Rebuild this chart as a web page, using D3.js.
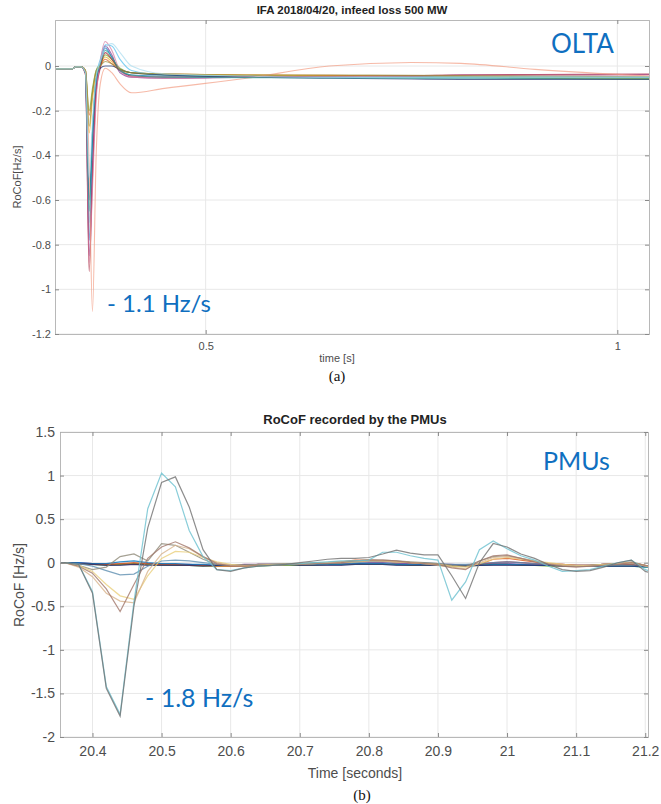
<!DOCTYPE html>
<html>
<head>
<meta charset="utf-8">
<script src="https://cdn.jsdelivr.net/npm/d3@7"></script>
<style>
  body { margin: 0; background: #fff; }
  svg { display: block; font-family: "Liberation Sans", Arial, sans-serif; }
  .tick text { fill: #4d4d4d; }
</style>
</head>
<body>
<svg id="chart" width="661" height="804"></svg>
<script>
// ---- (a) OLTA, IFA 2018/04/20 ----
var timeA = [0.317, 0.338, 0.342, 0.349, 0.354, 0.3585, 0.3625, 0.367, 0.372, 0.378, 0.386, 0.396, 0.41, 0.45, 0.55, 0.65, 0.75, 0.81, 0.9, 1.0385];
var colorsA = ["#0072BD", "#D95319", "#EDB120", "#7E2F8E", "#77AC30", "#4DBEEE", "#A2142F", "#1b2f6e", "#d4799e", "#f29c83", "#2aa198", "#9a8f3a", "#a6dcef"];
var oltaA = [
  [-0.013,-0.013,-0.004,-0.004,-0.03,-0.78,-0.35,-0.08,0.01,0.08,0.04,-0.02,-0.04,-0.045,-0.045,-0.047,-0.048,-0.05,-0.05,-0.052],
  [-0.013,-0.013,-0.004,-0.004,-0.02,-0.22,-0.12,-0.03,0.0,0.03,0.01,-0.02,-0.03,-0.035,-0.04,-0.042,-0.045,-0.048,-0.055,-0.06],
  [-0.013,-0.013,-0.004,-0.004,-0.02,-0.30,-0.15,-0.04,0.0,0.04,0.02,-0.015,-0.03,-0.035,-0.04,-0.043,-0.045,-0.045,-0.05,-0.055],
  [-0.013,-0.013,-0.004,-0.004,-0.03,-0.85,-0.45,-0.1,0.0,0.09,0.05,-0.03,-0.05,-0.055,-0.05,-0.048,-0.046,-0.04,-0.04,-0.038],
  [-0.013,-0.013,-0.004,-0.004,-0.02,-0.2,-0.1,-0.02,0.01,0.05,0.03,-0.01,-0.03,-0.04,-0.045,-0.047,-0.05,-0.05,-0.052,-0.055],
  [-0.013,-0.013,-0.004,-0.004,-0.03,-0.7,-0.3,-0.05,0.03,0.095,0.09,0.03,-0.02,-0.04,-0.048,-0.05,-0.05,-0.05,-0.05,-0.05],
  [-0.013,-0.013,-0.004,-0.004,-0.04,-0.92,-0.5,-0.12,-0.01,0.06,0.03,-0.02,-0.045,-0.05,-0.048,-0.046,-0.044,-0.04,-0.038,-0.036],
  [-0.013,-0.013,-0.004,-0.004,-0.03,-0.6,-0.3,-0.06,-0.01,0.0,0.0,-0.015,-0.03,-0.04,-0.05,-0.055,-0.058,-0.06,-0.06,-0.06],
  [-0.013,-0.013,-0.004,-0.004,-0.03,-0.88,-0.55,-0.15,0.02,0.11,0.07,-0.02,-0.05,-0.055,-0.05,-0.048,-0.045,-0.04,-0.04,-0.04],
  [-0.013,-0.013,-0.004,-0.004,-0.02,-0.45,-1.1,-0.4,-0.08,-0.01,-0.03,-0.08,-0.12,-0.1,-0.055,0.0,0.016,0.012,-0.015,-0.045],
  [-0.013,-0.013,-0.004,-0.004,-0.03,-0.65,-0.3,-0.06,0.01,0.07,0.04,-0.02,-0.04,-0.05,-0.052,-0.054,-0.055,-0.055,-0.056,-0.058],
  [-0.013,-0.013,-0.004,-0.004,-0.02,-0.27,-0.12,-0.02,0.0,0.02,0.01,-0.015,-0.03,-0.035,-0.04,-0.04,-0.042,-0.043,-0.045,-0.048],
  [-0.013,-0.013,-0.004,-0.004,-0.03,-0.5,-0.25,-0.05,0.02,0.08,0.1,0.06,0.0,-0.035,-0.045,-0.05,-0.05,-0.05,-0.05,-0.05]
];
var yTicksA = [0, -0.2, -0.4, -0.6, -0.8, -1, -1.2];
var yLabelsA = ["0", "-0.2", "-0.4", "-0.6", "-0.8", "-1", "-1.2"];
var xTicksA = [0.5, 1];
var xLabelsA = ["0.5", "1"];

// ---- (b) PMUs ----
var timeB = [20.34,20.36,20.38,20.40,20.42,20.44,20.46,20.48,20.50,20.52,20.54,20.56,20.58,20.60,20.62,20.64,20.66,20.68,20.70,20.72,20.74,20.76,20.78,20.80,20.82,20.84,20.86,20.88,20.90,20.92,20.94,20.96,20.98,21.00,21.02,21.04,21.06,21.08,21.10,21.12,21.14,21.16,21.18,21.20,21.22];
var colorsB = ["#7E2F8E", "#A2142F", "#77AC30", "#D95319", "#0072BD", "#2a2e6e", "#5e8fb0", "#8f8a78", "#ead07c", "#d8b48c", "#a1776a", "#6cc0d0", "#707070"];
var pmuB = [
  [0.0,0.0,0.0,-0.01,-0.02,-0.02,-0.01,-0.01,-0.02,-0.02,-0.02,-0.03,-0.03,-0.03,-0.02,-0.02,-0.02,-0.02,-0.02,-0.01,-0.01,-0.01,-0.01,0.0,0.0,-0.01,-0.01,-0.02,-0.02,-0.02,-0.03,-0.02,-0.01,-0.01,-0.02,-0.02,-0.02,-0.03,-0.03,-0.03,-0.02,-0.02,-0.02,-0.04,-0.05],
  [0.0,0.0,-0.01,-0.01,-0.02,-0.02,-0.02,-0.02,-0.02,-0.03,-0.03,-0.03,-0.03,-0.03,-0.03,-0.02,-0.02,-0.02,-0.01,-0.01,0.0,0.0,0.01,0.02,0.02,0.01,0.0,-0.01,-0.02,-0.03,-0.03,-0.02,0.0,0.01,0.0,-0.01,-0.02,-0.02,-0.03,-0.03,-0.02,-0.01,0.0,-0.03,-0.05],
  [0.0,0.0,-0.01,-0.02,-0.03,-0.02,-0.01,-0.02,-0.03,-0.03,-0.03,-0.04,-0.04,-0.04,-0.04,-0.04,-0.03,-0.03,-0.03,-0.03,-0.02,-0.02,-0.02,-0.02,-0.02,-0.02,-0.03,-0.03,-0.03,-0.04,-0.04,-0.03,-0.02,-0.02,-0.03,-0.03,-0.04,-0.04,-0.04,-0.04,-0.04,-0.04,-0.04,-0.05,-0.06],
  [0.0,0.0,-0.01,-0.02,-0.02,-0.01,0.0,-0.01,-0.02,-0.02,-0.03,-0.03,-0.04,-0.04,-0.04,-0.03,-0.03,-0.02,-0.02,-0.01,0.0,0.01,0.03,0.03,0.02,0.01,0.0,-0.01,-0.02,-0.03,-0.04,-0.02,0.04,0.05,0.03,0.01,-0.01,-0.02,-0.03,-0.03,-0.02,-0.02,-0.02,-0.04,-0.05],
  [0.0,0.0,0.0,-0.01,-0.01,0.01,0.02,0.0,-0.01,-0.01,-0.02,-0.02,-0.03,-0.03,-0.03,-0.03,-0.02,-0.02,-0.02,-0.02,-0.02,-0.02,-0.01,-0.01,-0.01,-0.02,-0.02,-0.02,-0.03,-0.03,-0.03,-0.03,-0.02,-0.02,-0.02,-0.03,-0.03,-0.03,-0.04,-0.04,-0.04,-0.04,-0.04,-0.05,-0.06],
  [0.0,0.0,-0.01,-0.02,-0.03,-0.03,-0.02,-0.03,-0.03,-0.03,-0.03,-0.04,-0.03,-0.03,-0.03,-0.03,-0.03,-0.02,-0.03,-0.03,-0.03,-0.03,-0.02,-0.02,-0.02,-0.03,-0.03,-0.03,-0.03,-0.03,-0.04,-0.03,-0.03,-0.03,-0.03,-0.03,-0.03,-0.04,-0.04,-0.04,-0.04,-0.04,-0.04,-0.04,-0.05],
  [0.0,0.0,-0.01,-0.04,-0.09,-0.14,-0.13,-0.04,0.02,0.03,0.02,0.0,-0.02,-0.03,-0.03,-0.02,-0.02,-0.02,-0.01,-0.01,-0.01,0.0,0.0,0.01,0.01,0.01,0.0,0.0,-0.01,-0.02,-0.02,-0.01,0.0,0.01,0.0,-0.01,-0.02,-0.03,-0.03,-0.03,-0.02,-0.02,-0.01,-0.04,-0.06],
  [0.0,0.0,-0.03,-0.08,-0.05,0.07,0.1,0.02,0.22,0.2,0.12,0.04,-0.02,-0.03,-0.03,-0.02,-0.02,-0.01,-0.01,0.0,0.0,0.01,0.02,0.03,0.03,0.02,0.01,0.0,-0.01,-0.03,-0.04,0.02,0.07,0.08,0.05,0.02,-0.01,-0.03,-0.04,-0.03,-0.02,-0.01,0.01,-0.03,-0.05],
  [0.0,0.0,-0.03,-0.1,-0.25,-0.38,-0.42,-0.15,0.05,0.13,0.12,0.06,0.01,-0.02,-0.03,-0.03,-0.02,-0.02,-0.01,-0.01,0.0,0.0,0.01,0.02,0.02,0.01,0.0,-0.01,-0.02,-0.04,-0.05,-0.01,0.04,0.06,0.04,0.02,0.0,-0.02,-0.03,-0.03,-0.02,-0.01,0.0,-0.03,-0.05],
  [0.0,0.0,-0.05,-0.16,-0.35,-0.44,-0.46,-0.1,0.1,0.2,0.16,0.07,0.0,-0.03,-0.04,-0.03,-0.03,-0.02,-0.02,-0.01,0.0,0.01,0.02,0.03,0.02,0.01,0.0,-0.01,-0.03,-0.05,-0.07,0.0,0.06,0.07,0.05,0.02,-0.01,-0.03,-0.04,-0.04,-0.03,-0.01,0.0,-0.04,-0.06],
  [0.0,0.0,-0.04,-0.12,-0.3,-0.56,-0.25,0.05,0.18,0.24,0.17,0.07,-0.01,-0.04,-0.04,-0.03,-0.03,-0.02,-0.02,-0.01,-0.01,0.0,0.02,0.03,0.03,0.02,0.0,-0.01,-0.02,-0.06,-0.08,0.02,0.08,0.09,0.05,0.01,-0.02,-0.04,-0.05,-0.04,-0.03,-0.02,0.0,-0.03,-0.05],
  [0.0,0.0,-0.02,-0.33,-1.42,-1.74,-0.45,0.62,1.03,0.87,0.37,0.07,-0.08,-0.09,-0.06,-0.04,-0.03,-0.02,-0.01,0.0,0.01,0.02,0.02,0.03,0.12,0.12,0.08,0.05,0.03,-0.43,-0.22,0.15,0.25,0.16,0.08,0.03,-0.04,-0.1,-0.09,-0.08,-0.04,0.0,0.03,-0.08,-0.12],
  [0.0,0.0,-0.02,-0.35,-1.44,-1.76,-0.5,0.4,0.92,0.985,0.64,0.15,-0.08,-0.1,-0.06,-0.04,-0.03,-0.02,0.0,0.02,0.04,0.05,0.05,0.06,0.1,0.145,0.11,0.09,0.09,-0.15,-0.41,0.0,0.22,0.18,0.1,0.05,-0.02,-0.08,-0.1,-0.09,-0.05,0.0,0.03,-0.1,-0.14]
];
var yTicksB = [1.5, 1, 0.5, 0, -0.5, -1, -1.5, -2];
var yLabelsB = ["1.5", "1", "0.5", "0", "-0.5", "-1", "-1.5", "-2"];
var xTicksB = [20.4, 20.5, 20.6, 20.7, 20.8, 20.9, 21, 21.1, 21.2];
var xLabelsB = ["20.4", "20.5", "20.6", "20.7", "20.8", "20.9", "21", "21.1", "21.2"];

var svg = d3.select("#chart");
var blue = "#0f6fc0";

// draws one MATLAB-like panel
function panel(o) {
  var x = d3.scaleLinear().domain(o.xDomain).range([o.left, o.right]);
  var y = d3.scaleLinear().domain(o.yDomain).range([o.bottom, o.top]);
  var g = svg.append("g");

  // grid
  g.selectAll(".gx").data(o.xTicks).enter().append("line")
    .attr("x1", d => x(d)).attr("x2", d => x(d))
    .attr("y1", o.top).attr("y2", o.bottom)
    .attr("stroke", "#e8e8e8").attr("stroke-width", 1);
  g.selectAll(".gy").data(o.yTicks).enter().append("line")
    .attr("x1", o.left).attr("x2", o.right)
    .attr("y1", d => y(d)).attr("y2", d => y(d))
    .attr("stroke", "#e8e8e8").attr("stroke-width", 1);

  // lines
  var clipId = "clip" + o.id;
  svg.append("clipPath").attr("id", clipId).append("rect")
    .attr("x", o.left).attr("y", o.top)
    .attr("width", o.right - o.left).attr("height", o.bottom - o.top);
  var line = d3.line()
    .x((d, i) => x(o.time[i]))
    .y(d => y(d))
    .curve(o.curve);
  g.append("g").attr("clip-path", "url(#" + clipId + ")")
    .selectAll("path").data(o.series).enter().append("path")
    .attr("d", d => line(d))
    .attr("fill", "none")
    .attr("stroke", (d, i) => o.colors[i])
    .attr("stroke-width", o.lineWidth)
    .attr("stroke-opacity", o.opacity);

  // axes (ticks pointing inward like matlab)
  var ax = g.append("g").attr("transform", "translate(0," + o.bottom + ")")
    .call(d3.axisBottom(x).tickValues(o.xTicks).tickFormat((d, i) => o.xLabels[i]).tickSize(-4).tickPadding(o.xPad));
  var ay = g.append("g").attr("transform", "translate(" + o.left + ",0)")
    .call(d3.axisLeft(y).tickValues(o.yTicks).tickFormat((d, i) => o.yLabels[i]).tickSize(-4).tickPadding(o.yPad));
  var at = g.append("g").attr("transform", "translate(0," + o.top + ")")
    .call(d3.axisTop(x).tickValues(o.xTicks).tickFormat("").tickSize(-4));
  var ar = g.append("g").attr("transform", "translate(" + o.right + ",0)")
    .call(d3.axisRight(y).tickValues(o.yTicks).tickFormat("").tickSize(-4));
  [ax, ay, at, ar].forEach(function(a) {
    a.select(".domain").attr("stroke", "#b8b8b8");
    a.selectAll(".tick line").attr("stroke", "#8a8a8a");
    a.selectAll(".tick text").attr("font-size", o.tickFont).attr("fill", "#4d4d4d");
  });
  return {x: x, y: y};
}

panel({
  id: "A", left: 55, right: 649, top: 20, bottom: 334,
  xDomain: [0.317, 1.0385], yDomain: [-1.2, 0.206],
  xTicks: xTicksA, xLabels: xLabelsA, yTicks: yTicksA, yLabels: yLabelsA,
  time: timeA, series: oltaA, colors: colorsA,
  curve: d3.curveMonotoneX, lineWidth: 1.1, opacity: 0.7,
  tickFont: "11px", xPad: 8, yPad: 4
});

panel({
  id: "B", left: 60, right: 648, top: 432, bottom: 737,
  xDomain: [20.353, 21.204], yDomain: [-2, 1.5],
  xTicks: xTicksB, xLabels: xLabelsB, yTicks: yTicksB, yLabels: yLabelsB,
  time: timeB, series: pmuB, colors: colorsB,
  curve: d3.curveLinear, lineWidth: 1.2, opacity: 0.8,
  tickFont: "14px", xPad: 9, yPad: 5
});

// titles and labels
svg.append("text").attr("x", 352).attr("y", 14).attr("text-anchor", "middle")
  .attr("font-weight", "bold").attr("font-size", "11.5px").attr("fill", "#222")
  .text("IFA 2018/04/20, infeed loss 500 MW");
svg.append("text").attr("transform", "translate(21,177) rotate(-90)").attr("text-anchor", "middle")
  .attr("font-size", "11px").attr("fill", "#4d4d4d").text("RoCoF[Hz/s]");
svg.append("text").attr("x", 337).attr("y", 362).attr("text-anchor", "middle")
  .attr("font-size", "11px").attr("fill", "#4d4d4d").text("time [s]");
svg.append("text").attr("x", 337).attr("y", 381).attr("text-anchor", "middle")
  .attr("font-family", "Liberation Serif, serif").attr("font-size", "15px").attr("fill", "#111").text("(a)");

svg.append("text").attr("x", 355).attr("y", 424).attr("text-anchor", "middle")
  .attr("font-weight", "bold").attr("font-size", "13px").attr("fill", "#222")
  .text("RoCoF recorded by the PMUs");
svg.append("text").attr("transform", "translate(24,585) rotate(-90)").attr("text-anchor", "middle")
  .attr("font-size", "14px").attr("fill", "#4d4d4d").text("RoCoF [Hz/s]");
svg.append("text").attr("x", 355).attr("y", 778).attr("text-anchor", "middle")
  .attr("font-size", "14px").attr("fill", "#4d4d4d").text("Time [seconds]");
svg.append("text").attr("x", 362).attr("y", 800).attr("text-anchor", "middle")
  .attr("font-family", "Liberation Serif, serif").attr("font-size", "15px").attr("fill", "#111").text("(b)");

// blue annotations
svg.append("text").attr("x", 551).attr("y", 53).attr("font-family", "Lato, sans-serif")
  .attr("font-size", "26px").attr("fill", blue).text("OLTA");
svg.append("text").attr("x", 107).attr("y", 312).attr("font-family", "Lato, sans-serif")
  .attr("font-size", "24px").attr("fill", blue).text("- 1.1 Hz/s");
svg.append("text").attr("x", 543).attr("y", 470).attr("font-family", "Lato, sans-serif")
  .attr("font-size", "25px").attr("fill", blue).text("PMUs");
svg.append("text").attr("x", 145).attr("y", 707).attr("font-family", "Lato, sans-serif")
  .attr("font-size", "25px").attr("fill", blue).text("- 1.8 Hz/s");
</script>
</body>
</html>
